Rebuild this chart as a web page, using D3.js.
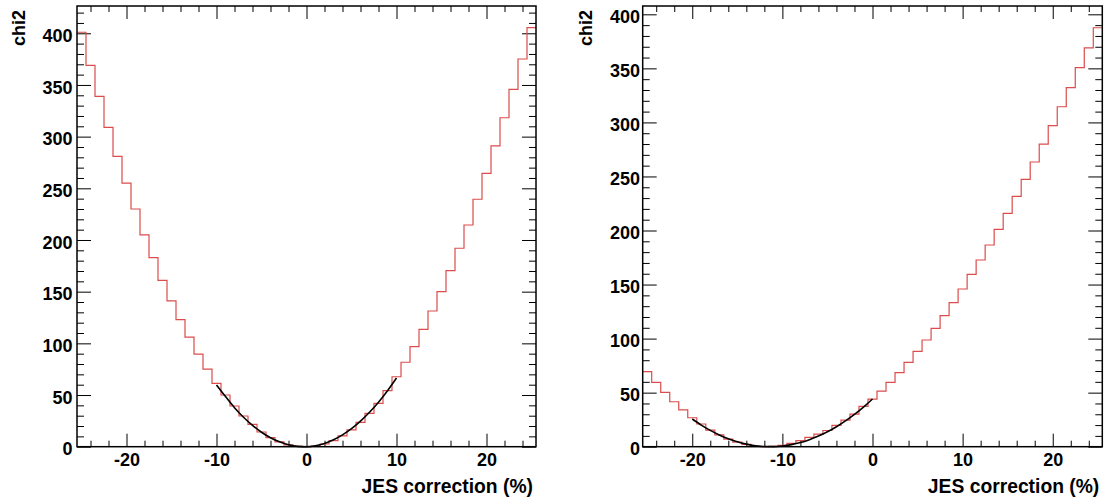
<!DOCTYPE html>
<html>
<head>
<meta charset="utf-8">
<script src="https://cdn.jsdelivr.net/npm/d3@7"></script>
<style>
  body { margin: 0; background: #fff; }
  svg { display: block; }
  .lbl { font-family: "Liberation Sans", Arial, sans-serif; font-weight: bold; font-size: 18px; fill: #000; }
  .xtitle { font-size: 19.3px; }
  .axis path { display: none; }
  .axis line { stroke: #000; stroke-width: 1; }
</style>
</head>
<body>
<svg id="chart" width="1109" height="504"></svg>
<script>
// bin centres (JES correction in %), one bin per percent
const binCenters = d3.range(-25, 26);

// chi2 per bin, left canvas
const chi2Left = [
  401, 369, 339, 309, 281, 255, 230, 205, 183, 161,
  141, 123, 106, 89.5, 75, 61.3, 50, 39.4, 29.7, 21.6,
  14.2, 8.7, 4.6, 1.8, 0.4, 0, 0.6, 2.6, 5.8, 10.4,
  16.2, 23.6, 32.3, 42, 54.2, 67.7, 81.7, 96.8, 113.6, 131.3,
  150, 170.3, 192, 214.5, 239.4, 264.5, 291, 318.3, 345.8, 375.1,
  405.4
];

// chi2 per bin, right canvas
const chi2Right = [
  69.4, 59.6, 50.3, 41.6, 34, 26.8, 21, 15.4, 10.9, 7.1,
  4.3, 2.2, 0.6, 0, 0.3, 1.2, 3.1, 5.6, 8.7, 11.7,
  15, 19.7, 24.5, 30.2, 37.3, 44, 51.5, 59.6, 68.5, 78.1,
  88.2, 98.7, 109.5, 121.2, 133.2, 145.9, 159.5, 172.7, 186.6, 201.1,
  215.9, 231.6, 247.4, 263.4, 280, 297, 314.5, 332.1, 350.6, 369,
  387.6
];

// fitted parabola, points
const fitLeftX = [-10, -9, -8, -7, -6, -5, -4, -3, -2, -1, 0, 1, 2, 3, 4, 5, 6, 7, 8, 9, 10];
const fitLeftY = [59.7, 48.5, 37.7, 28.5, 20.7, 14, 8.7, 4.7, 1.8, 0.3, 0, 1, 3.2, 6.7, 11.5, 17.5, 24.8, 33.3, 43.1, 54.2, 66.5];
const fitRightX = [-20, -19, -18, -17, -16, -15, -14, -13, -12, -11, -10, -9, -8, -7, -6, -5, -4, -3, -2, -1, 0];
const fitRightY = [25.6, 20, 15.1, 10.9, 7.4, 4.5, 2.4, 0.9, 0.15, 0.05, 0.6, 1.9, 3.8, 6.5, 9.8, 13.8, 18.5, 23.9, 29.9, 36.6, 44.1];

const xMajor = [-20, -10, 0, 10, 20];
const xMinor = d3.range(-24, 25, 2).filter(v => v % 10 !== 0);
const yMajor = d3.range(0, 401, 50);
const xTitle = "JES correction (%)";
const yTitle = "chi2";

const svg = d3.select("#chart");

function drawPanel(cfg) {
  const x = d3.scaleLinear().domain([-25.5, 25.5]).range([cfg.left, cfg.right]);
  const y = d3.scaleLinear().domain([0, cfg.yMax]).range([cfg.bottom, cfg.top]);
  const g = svg.append("g");

  const yMinor = d3.range(0, cfg.yMax, 10).filter(v => v % 50 !== 0);

  // ticks, all pointing into the frame
  g.append("g").attr("class", "axis lbl")
    .attr("transform", `translate(0,${cfg.bottom})`)
    .call(d3.axisBottom(x).tickValues(xMajor).tickSize(-13).tickPadding(7).tickFormat(d => String(d)));
  g.append("g").attr("class", "axis")
    .attr("transform", `translate(0,${cfg.bottom})`)
    .call(d3.axisBottom(x).tickValues(xMinor).tickSize(-6).tickFormat(""));
  g.append("g").attr("class", "axis")
    .attr("transform", `translate(0,${cfg.top})`)
    .call(d3.axisTop(x).tickValues(xMajor).tickSize(-13).tickFormat(""));
  g.append("g").attr("class", "axis")
    .attr("transform", `translate(0,${cfg.top})`)
    .call(d3.axisTop(x).tickValues(xMinor).tickSize(-6).tickFormat(""));

  const yl = g.append("g").attr("class", "axis lbl")
    .attr("transform", `translate(${cfg.left},0)`)
    .call(d3.axisLeft(y).tickValues(yMajor).tickSize(-14).tickPadding(cfg.yPad).tickFormat(d => String(d)));
  yl.selectAll("text").attr("dy", "0.45em");
  g.append("g").attr("class", "axis")
    .attr("transform", `translate(${cfg.left},0)`)
    .call(d3.axisLeft(y).tickValues(yMinor).tickSize(-7).tickFormat(""));
  g.append("g").attr("class", "axis")
    .attr("transform", `translate(${cfg.right},0)`)
    .call(d3.axisRight(y).tickValues(yMajor).tickSize(-14).tickFormat(""));
  g.append("g").attr("class", "axis")
    .attr("transform", `translate(${cfg.right},0)`)
    .call(d3.axisRight(y).tickValues(yMinor).tickSize(-7).tickFormat(""));

  // histogram drawn as steps
  const pts = [];
  cfg.values.forEach((v, i) => {
    pts.push([binCenters[i] - 0.5, v]);
    pts.push([binCenters[i] + 0.5, v]);
  });
  g.append("path")
    .datum(pts)
    .attr("fill", "none")
    .attr("stroke", "#dc4c4c")
    .attr("stroke-width", 1.2)
    .attr("d", d3.line().x(d => x(d[0])).y(d => y(d[1])));

  // fit
  g.append("path")
    .datum(cfg.fitX.map((v, i) => [v, cfg.fitY[i]]))
    .attr("fill", "none")
    .attr("stroke", "#000")
    .attr("stroke-width", 1.6)
    .attr("d", d3.line().curve(d3.curveMonotoneX).x(d => x(d[0])).y(d => y(d[1])));

  // frame
  g.append("rect")
    .attr("x", cfg.left).attr("y", cfg.top)
    .attr("width", cfg.right - cfg.left).attr("height", cfg.bottom - cfg.top)
    .attr("fill", "none").attr("stroke", "#000").attr("stroke-width", 1.5);

  g.append("text").attr("class", "lbl xtitle")
    .attr("x", cfg.right - 3).attr("y", 493)
    .attr("text-anchor", "end")
    .text(xTitle);
  g.append("text").attr("class", "lbl")
    .attr("transform", `translate(${cfg.yTitleX},${cfg.top + 4}) rotate(-90)`)
    .attr("text-anchor", "end")
    .text(yTitle);
}

drawPanel({ left: 77, right: 536, top: 6, bottom: 446.7, yMax: 426.4, yPad: 4.5, yTitleX: 25,
  values: chi2Left, fitX: fitLeftX, fitY: fitLeftY });
drawPanel({ left: 642.7, right: 1102.3, top: 6, bottom: 446.7, yMax: 407.7, yPad: 2.7, yTitleX: 591.7,
  values: chi2Right, fitX: fitRightX, fitY: fitRightY });
</script>
</body>
</html>
